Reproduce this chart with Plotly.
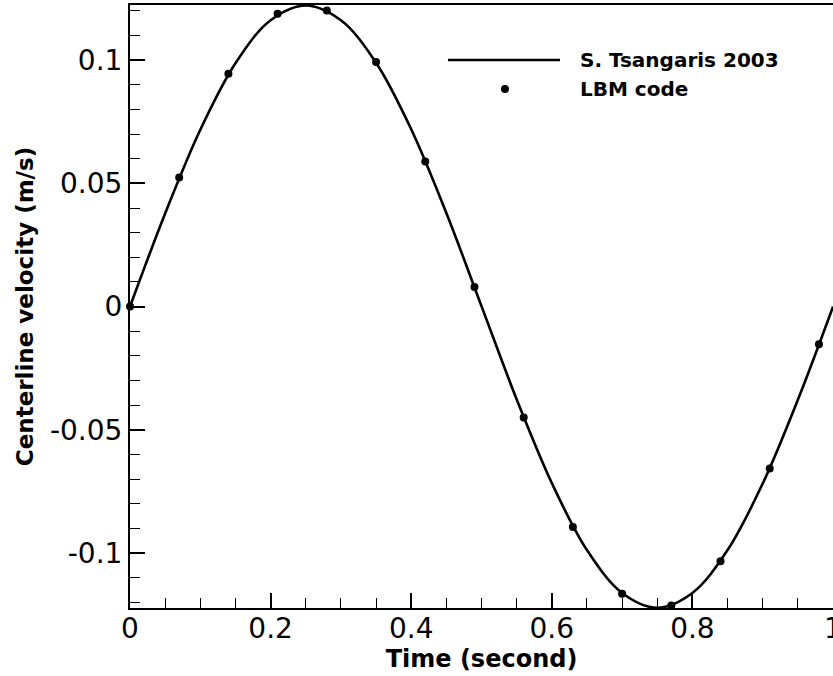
import plotly.graph_objects as go

# Reference solution (S. Tsangaris 2003): centerline velocity over one period
time_ref = [0.00, 0.05, 0.10, 0.15, 0.20, 0.25, 0.30, 0.35, 0.40, 0.45, 0.50,
            0.55, 0.60, 0.65, 0.70, 0.75, 0.80, 0.85, 0.90, 0.95, 1.00]
vel_ref = [0.0000, 0.0378, 0.0718, 0.0988, 0.1162, 0.1222, 0.1162, 0.0990,
           0.0720, 0.0380, 0.0002, -0.0376, -0.0716, -0.0988, -0.1162,
           -0.1222, -0.1162, -0.0988, -0.0718, -0.0378, 0.0000]

# LBM code samples
time_lbm = [0.00, 0.07, 0.14, 0.21, 0.28, 0.35, 0.42, 0.49, 0.56, 0.63,
            0.70, 0.77, 0.84, 0.91, 0.98]
vel_lbm = [0.0000, 0.0524, 0.0945, 0.1188, 0.1202, 0.0993, 0.0589, 0.0080,
           -0.0450, -0.0894, -0.1165, -0.1213, -0.1033, -0.0657, -0.0153]

x_tickvals = [0, 0.2, 0.4, 0.6, 0.8, 1.0]
x_ticktext = ["0", "0.2", "0.4", "0.6", "0.8", "1"]
y_tickvals = [-0.1, -0.05, 0, 0.05, 0.1]
y_ticktext = ["-0.1", "-0.05", "0", "0.05", "0.1"]

legend_names = ["S. Tsangaris 2003", "LBM code"]

fig = go.Figure()
fig.add_trace(go.Scatter(
    x=time_ref, y=vel_ref, mode="lines", name=legend_names[0],
    line=dict(color="black", width=2.6, shape="spline", smoothing=1.0),
    showlegend=False,
))
fig.add_trace(go.Scatter(
    x=time_lbm, y=vel_lbm, mode="markers", name=legend_names[1],
    marker=dict(color="black", size=8), cliponaxis=False,
    showlegend=False,
))

tick_font = dict(family="DejaVu Sans", size=28, color="black")
title_font = dict(family="DejaVu Sans", size=24, color="black")

fig.update_xaxes(
    range=[0, 1.0], tickvals=x_tickvals, ticktext=x_ticktext,
    ticks="inside", ticklen=15, tickwidth=2, tickcolor="black",
    minor=dict(dtick=0.05, ticks="inside", ticklen=10, tickwidth=1,
               tickcolor="black", showgrid=False),
    showline=True, linewidth=2, linecolor="black", mirror=True,
    showgrid=False, zeroline=False, tickfont=tick_font,
    ticklabeloverflow="allow", ticklabelstandoff=-6, automargin=False,
    title=dict(text="<b>Time (second)</b>", font=title_font, standoff=2),
)
fig.update_yaxes(
    range=[-0.1223, 0.1224], tickvals=y_tickvals, ticktext=y_ticktext,
    ticks="inside", ticklen=15, tickwidth=2, tickcolor="black",
    minor=dict(dtick=0.01, ticks="inside", ticklen=10, tickwidth=1,
               tickcolor="black", showgrid=False),
    showline=True, linewidth=2, linecolor="black", mirror=False,
    showgrid=False, zeroline=False, tickfont=tick_font, automargin=False,
    title=dict(text="<b>Centerline velocity (m/s)</b>",
               font=dict(family="DejaVu Sans", size=23, color="black"),
               standoff=10),
)

# Legend drawn inside the plot area (paper coordinates)
legend_font = dict(family="DejaVu Sans", size=20, color="black")
fig.add_shape(type="line", xref="paper", yref="paper",
              x0=0.4523, x1=0.6117, y0=0.9088, y1=0.9088,
              line=dict(color="black", width=2.6))
fig.add_shape(type="circle", xref="paper", yref="paper",
              xsizemode="pixel", ysizemode="pixel",
              xanchor=0.5334, yanchor=0.8607,
              x0=-4, x1=4, y0=-4, y1=4,
              fillcolor="black", line=dict(color="black", width=0))
fig.add_annotation(xref="paper", yref="paper", x=0.6370, y=0.9088,
                   xanchor="left", yanchor="middle", showarrow=False,
                   text="<b>" + legend_names[0] + "</b>", font=legend_font)
fig.add_annotation(xref="paper", yref="paper", x=0.6370, y=0.8607,
                   xanchor="left", yanchor="middle", showarrow=False,
                   text="<b>" + legend_names[1] + "</b>", font=legend_font)

fig.update_layout(
    width=833, height=676,
    margin=dict(l=130, r=0, t=5, b=68),
    paper_bgcolor="white", plot_bgcolor="white",
    showlegend=False,
)

fig.write_html("out.html")
